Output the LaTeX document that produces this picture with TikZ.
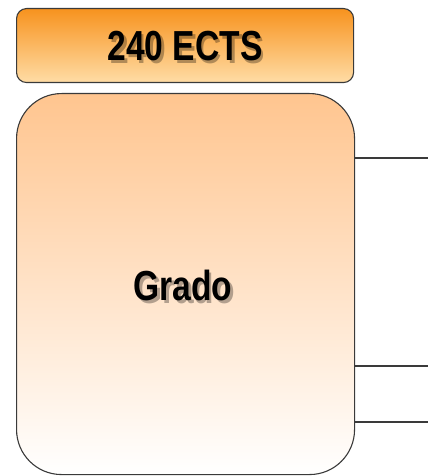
\documentclass[tikz,border=0pt]{standalone}
\usepackage{fontspec}
\setmainfont{Liberation Sans}
\usepackage{graphicx}
\usetikzlibrary{calc}
\definecolor{orTop}{HTML}{F7931E}
\definecolor{orBot}{HTML}{FFDDA6}
\definecolor{pkTop}{HTML}{FFC58F}
\definecolor{pkBot}{HTML}{FFFFFF}
\definecolor{edge}{HTML}{3A3A3A}
\newcommand{\shtext}[1]{\scalebox{0.8}[1]{\fontsize{42}{42}\selectfont\bfseries #1}}
\tikzset{
  boxline/.style={draw=edge, line width=1.1pt},
  conn/.style={draw=edge, line width=1.3pt},
  lbl/.style={inner sep=0pt, text=black},
  shadowlbl/.style={inner sep=0pt, text=black, opacity=0.3},
}
\begin{document}
\begin{tikzpicture}[x=1pt,y=-1pt]
\useasboundingbox (0,0) rectangle (428,476);
% top box
\node[boxline, rounded corners=10pt, top color=orTop, bottom color=orBot,
  minimum width=337pt, minimum height=74pt, anchor=north west, inner sep=0pt] (ects) at (16,8) {};
\node[shadowlbl] (ectsshadow) at ($(ects.center)+(2.5,3.5)$) {\shtext{240 ECTS}};
\node[lbl] (ectstext) at (ects.center) {\shtext{240 ECTS}};
% main box
\node[boxline, rounded corners=45pt, top color=pkTop, bottom color=pkBot,
  minimum width=338pt, minimum height=381pt, anchor=north west, inner sep=0pt] (grado) at (16,93) {};
\coordinate (gc) at (183,285);
\node[shadowlbl] (gradoshadow) at ($(gc)+(2.5,3.5)$) {\shtext{Grado}};
\node[lbl] (gradotext) at (gc) {\shtext{Grado}};
% connectors
\coordinate (e1) at (428,158);
\coordinate (e2) at (428,366);
\coordinate (e3) at (428,422);
\draw[conn] (grado.east |- e1) -- (e1);
\draw[conn] (grado.east |- e2) -- (e2);
\draw[conn] (grado.east |- e3) -- (e3);
\end{tikzpicture}
\end{document}
